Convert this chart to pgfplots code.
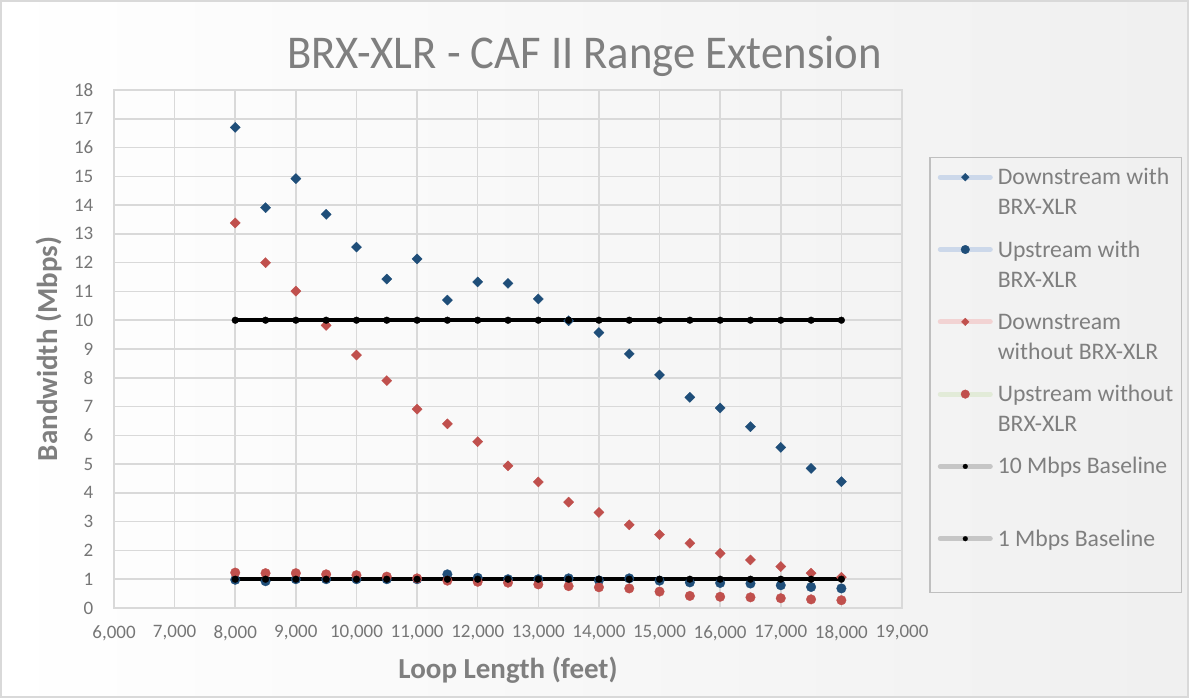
\documentclass[border=0pt]{standalone}
\usepackage{fontspec}
\setmainfont{Carlito}
\newfontfamily\titlefont{Carlito}[FakeStretch=0.95]
\usepackage{pgfplots}
\usepackage{pgfplotstable}
\pgfplotsset{compat=1.18}
\definecolor{dblue}{HTML}{1F4E79}
\definecolor{dred}{HTML}{C0504D}
\definecolor{gridc}{HTML}{D9D9D9}
\definecolor{txtc}{HTML}{7F7F7F}
\definecolor{tickc}{HTML}{767676}
\definecolor{lgblue}{HTML}{CCD8EA}
\definecolor{lgred}{HTML}{F2D3D3}
\definecolor{lggreen}{HTML}{E2EBD8}
\definecolor{lggray}{HTML}{C6C6C6}
\definecolor{legbox}{HTML}{BFBFBF}

\pgfplotstableread{
x      dw     uw    dwo    uwo   b10  b1
8000   16.70  0.98  13.38  1.23  10   1
8500   13.91  0.93  12.00  1.21  10   1
9000   14.92  1.00  11.01  1.21  10   1
9500   13.68  1.00   9.82  1.17  10   1
10000  12.54  1.00   8.79  1.14  10   1
10500  11.43  1.00   7.90  1.09  10   1
11000  12.13  1.00   6.91  1.03  10   1
11500  10.70  1.17   6.40  0.95  10   1
12000  11.33  1.05   5.78  0.91  10   1
12500  11.28  1.00   4.94  0.88  10   1
13000  10.74  1.00   4.38  0.82  10   1
13500   9.98  1.03   3.68  0.76  10   1
14000   9.57  0.96   3.32  0.72  10   1
14500   8.83  1.03   2.89  0.68  10   1
15000   8.10  0.95   2.55  0.57  10   1
15500   7.32  0.89   2.25  0.42  10   1
16000   6.95  0.87   1.90  0.39  10   1
16500   6.30  0.85   1.67  0.37  10   1
17000   5.58  0.79   1.44  0.34  10   1
17500   4.85  0.73   1.21  0.30  10   1
18000   4.39  0.68   1.07  0.27  10   1
}\datatable

\pgfplotsset{
  legimg/.style 2 args={legend image code/.code={
     \draw[draw=#1, line width=5pt, line cap=round] (2.5pt,46.5pt) -- (52.5pt,46.5pt);
     \draw[every mark/.append style={scale=#2}] plot coordinates {(27.5pt,46.5pt)};
  }},
}
\newcommand{\twol}[2]{\raisebox{39pt}{\begin{tabular}[t]{@{}l@{}}#1\\#2\end{tabular}}}

\begin{document}
\begin{tikzpicture}[x=1pt,y=1pt]
\path[use as bounding box] (0,0) rectangle (1189,698);
\shade[left color=white, right color=black!6] (0,0) rectangle (1189,698);
\draw[gridc, line width=1.5pt] (1,1) rectangle (1188,697);
\begin{axis}[
  at={(114pt,90pt)}, anchor=south west, scale only axis,
  width=788pt, height=518pt,
  xmin=6000, xmax=19000, ymin=0, ymax=18,
  xtick={6000,7000,...,19000}, ytick={0,1,...,18},
  grid=major,
  major grid style={draw=gridc, line width=1.5pt},
  axis line style={draw=gridc, line width=1.5pt},
  major tick length=0pt,
  scaled x ticks=false,
  /pgf/number format/assume math mode=true,
  /pgf/number format/fixed,
  /pgf/number format/1000 sep={,},
  tick label style={font=\fontsize{19}{22}\selectfont, text=tickc},
  xticklabel style={anchor=north, inner sep=0pt, yshift=-17pt},
  yticklabel style={anchor=east, inner sep=0pt, xshift=-20.5pt},
  title={BRX-XLR - CAF II Range Extension},
  every axis title/.style={at={(axis description cs:0.5971,1.0419)}, anchor=base,
     font=\titlefont\fontsize{47}{56}\selectfont, text=txtc, inner sep=0pt},
  xlabel={Loop Length (feet)},
  every axis x label/.style={at={(axis description cs:0.5,-0.1357)}, anchor=base,
     font=\bfseries\fontsize{29}{34}\selectfont, text=txtc, inner sep=0pt},
  ylabel={Bandwidth (Mbps)},
  every axis y label/.style={at={(axis description cs:-0.0723,0.5)}, anchor=base, rotate=90,
     font=\bfseries\fontsize{29}{34}\selectfont, text=txtc, inner sep=0pt},
  legend cell align=left,
  legend style={at={(1.0343,0.8707)}, anchor=north west, draw=legbox, line width=1.5pt,
     fill=none, inner xsep=8pt, inner ysep=6pt, row sep=10.8pt, column sep=5pt,
     nodes={anchor=base west, inner sep=0pt,
       font=\fontsize{23.7}{30}\selectfont, text=txtc},
     cells={anchor=base west}},
]
\addplot[only marks, mark=square*, mark size=3.6pt,
   mark options={rotate=45, fill=dblue, draw=dblue, line width=0.3pt},
   legimg={lgblue}{0.75}] table[x=x, y=dw] {\datatable};
\addlegendentry{\twol{Downstream with}{BRX-XLR}}
\addplot[only marks, mark=*, mark size=4.8pt,
   mark options={fill=dblue, draw=dblue, line width=0.3pt},
   legimg={lgblue}{0.9}] table[x=x, y=uw] {\datatable};
\addlegendentry{\twol{Upstream with}{BRX-XLR}}
\addplot[only marks, mark=square*, mark size=3.6pt,
   mark options={rotate=45, fill=dred, draw=dred, line width=0.3pt},
   legimg={lgred}{0.75}] table[x=x, y=dwo] {\datatable};
\addlegendentry{\twol{Downstream}{without BRX-XLR}}
\addplot[only marks, mark=*, mark size=4.8pt,
   mark options={fill=dred, draw=dred, line width=0.3pt},
   legimg={lggreen}{0.9}] table[x=x, y=uwo] {\datatable};
\addlegendentry{\twol{Upstream without}{BRX-XLR}}
\addplot[black, line width=3.8pt, mark=*, mark size=3.4pt,
   mark options={fill=black, draw=black, line width=0.3pt},
   legimg={lggray}{0.7}] table[x=x, y=b10] {\datatable};
\addlegendentry{\twol{10 Mbps Baseline}{}}
\addplot[black, line width=3.8pt, mark=*, mark size=3.4pt,
   mark options={fill=black, draw=black, line width=0.3pt},
   legimg={lggray}{0.7}] table[x=x, y=b1] {\datatable};
\addlegendentry{\twol{1 Mbps Baseline}{}}
\end{axis}
\end{tikzpicture}
\end{document}
